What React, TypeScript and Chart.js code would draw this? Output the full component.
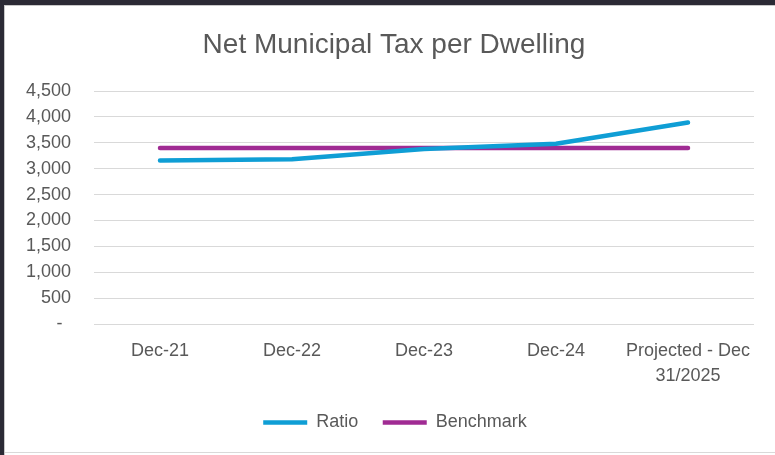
import React, { useEffect, useRef } from "react";
import { Chart, registerables } from "chart.js";

Chart.register(...registerables);

const categories: (string | string[])[] = ["Dec-21", "Dec-22", "Dec-23", "Dec-24", ["Projected - Dec", "31/2025"]];
const ratioValues = [3160, 3180, 3380, 3480, 3890];
const benchmarkValues = [3400, 3400, 3400, 3400, 3400];
const chartTitle = "Net Municipal Tax per Dwelling";
const yMin = 0;
const yMax = 4500;
const yStep = 500;

const FONT = '"Liberation Sans", Arial, sans-serif';
const TEXT = "#595959";

const shiftBoxes = {
  id: "shiftBoxes",
  afterLayout(chart: any) {
    if (chart.legend) {
      chart.legend.left += 11;
      chart.legend.right += 11;
    }
    if (chart.titleBlock) {
      chart.titleBlock.left += 10;
      chart.titleBlock.right += 10;
    }
  },
};

export default function App() {
  const ref = useRef<HTMLCanvasElement | null>(null);

  useEffect(() => {
    const canvas = ref.current;
    if (!canvas) return;
    const chart = new Chart(canvas, {
      type: "line",
      data: {
        labels: categories,
        datasets: [
          {
            label: "Ratio",
            data: ratioValues,
            borderColor: "#0F9ED5",
            backgroundColor: "#0F9ED5",
            borderWidth: 4.5,
            borderCapStyle: "round",
            borderJoinStyle: "round",
            pointRadius: 0,
            tension: 0,
          },
          {
            label: "Benchmark",
            data: benchmarkValues,
            borderColor: "#A02B93",
            backgroundColor: "#A02B93",
            borderWidth: 4.5,
            borderCapStyle: "round",
            borderJoinStyle: "round",
            pointRadius: 0,
            tension: 0,
          },
        ],
      },
      options: {
        responsive: false,
        animation: false,
        devicePixelRatio: 1,
        layout: { padding: { left: 14, right: 21, top: 0, bottom: 13.5 } },
        plugins: {
          title: {
            display: true,
            text: chartTitle,
            color: TEXT,
            font: { family: FONT, size: 28, weight: "normal", lineHeight: 1.2 },
            padding: { top: 28, bottom: 29.4 },
          },
          legend: {
            position: "bottom",
            labels: {
              color: TEXT,
              font: { family: FONT, size: 18 },
              usePointStyle: true,
              pointStyle: "line",
              pointStyleWidth: 44,
              padding: 24.5,
            },
          },
          tooltip: { enabled: false },
        },
        scales: {
          x: {
            offset: true,
            afterFit: (scale: any) => {
              scale.height = 65;
              scale.paddingLeft = 0;
              scale.paddingRight = 0;
            },
            grid: { display: false, drawTicks: false, offset: true },
            border: { display: false },
            ticks: {
              color: TEXT,
              font: { family: FONT, size: 18, lineHeight: 25 / 18 },
              padding: 15,
              maxRotation: 0,
              minRotation: 0,
              autoSkip: false,
            },
          },
          y: {
            min: yMin,
            max: yMax,
            afterFit: (scale: any) => {
              scale.width = 80;
            },
            grid: { color: "#D9D9D9", lineWidth: 1, drawTicks: false },
            border: { display: false },
            ticks: {
              stepSize: yStep,
              autoSkip: false,
              color: TEXT,
              font: { family: FONT, size: 18 },
              padding: 23,
              callback: (v: any) => (Number(v) === 0 ? "- \u2009" : Number(v).toLocaleString("en-US")),
            },
          },
        },
      },
      plugins: [shiftBoxes],
    });
    return () => chart.destroy();
  }, []);

  return (
    <div style={{ position: "fixed", left: 0, top: 0, width: 775, height: 455, background: "#2b2a35", overflow: "hidden" }}>
      <div
        style={{
          position: "absolute",
          left: 4,
          top: 5,
          right: 0,
          bottom: 0,
          background: "#ffffff",
          borderLeft: "1px solid #c8c8c8",
          borderTop: "1px solid #c8c8c8",
        }}
      />
      <div style={{ position: "absolute", left: 5, right: 0, top: 452, height: 1, background: "#d9d9d9" }} />
      <canvas ref={ref} width={775} height={455} style={{ position: "absolute", left: 0, top: 0, width: 775, height: 455 }} />
    </div>
  );
}
